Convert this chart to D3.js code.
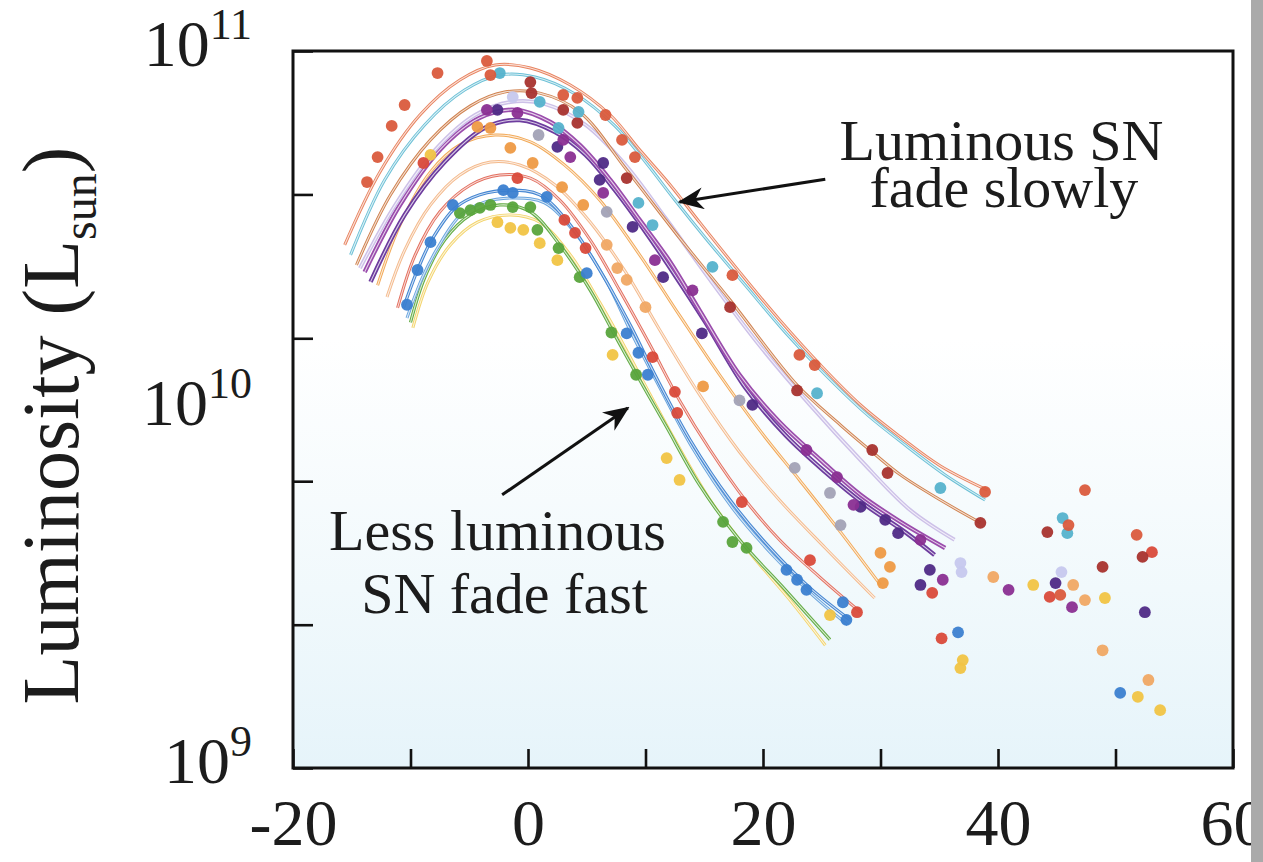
<!DOCTYPE html>
<html>
<head>
<meta charset="utf-8">
<script src="https://cdn.jsdelivr.net/npm/d3@7"></script>
<style>
  html, body { margin: 0; padding: 0; background: #fff; }
  svg { display: block; }
  text { font-family: "Liberation Serif", "Times New Roman", serif; fill: #1c1c1c; }
</style>
</head>
<body>
<div id="viz"></div>
<script>
// luminosity in units of 10^9 L_sun, time in days from peak
const xTicks = [-20, -10, 0, 10, 20, 30, 40, 50, 60];
const xLabels = [-20, 0, 20, 40, 60];
const yTicks = [1, 2.51, 6.31, 15.8, 39.8, 100];
const yLabels = [[1, "9"], [10, "10"], [100, "11"]];

const fitSalmon = [[-15.6,28.8],[-12.6,46.0],[-9.2,66.3],[-5.8,83.0],[-2.8,91.4],[0.2,89.7],[3.6,80.4],[7.0,66.3],[9.5,53.0],[12.1,42.3],[14.6,33.3],[18.0,24.2],[21.4,17.8],[24.9,13.3],[28.3,10.3],[31.7,8.38],[35.1,6.96],[39.1,5.96]];
const obsSalmon = [[-13.7,43.1],[-12.8,50.6],[-11.6,61.8],[-10.5,70.7],[-7.7,86.8],[-3.5,93.8],[-3.2,85.7],[3.0,75.4],[4.2,74.0],[6.6,66.3],[8.0,56.5],[9.1,50.6],[17.4,23.7],[23.1,14.2],[24.4,13.3],[38.9,5.89],[47.4,5.96],[51.8,4.47],[45.3,3.04],[46.0,4.76]];

const fitCyan = [[-15.1,27.0],[-12.2,43.7],[-8.8,62.2],[-5.4,77.8],[-2.4,85.7],[0.6,84.6],[4.0,75.9],[7.4,61.8],[10.0,49.0],[12.5,38.4],[15.1,30.1],[18.5,22.2],[21.9,16.4],[25.3,12.5],[28.7,9.78],[32.1,7.96],[35.5,6.57],[38.9,5.59]];
const obsCyan = [[-2.4,86.8],[1.0,72.1],[4.3,67.6],[2.6,61.0],[9.4,37.7],[10.6,32.7],[15.7,25.0],[24.6,11.1],[35.1,6.04],[45.5,4.98],[45.9,4.52]];

const fitBrown = [[-14.6,25.3],[-11.7,39.7],[-8.3,56.5],[-4.9,70.3],[-2.0,76.8],[1.0,76.3],[4.4,67.6],[8.4,46.6],[12.9,30.1],[17.2,20.2],[22.9,11.7],[26.6,9.05],[29.3,7.61],[31.7,6.57],[35.1,5.59],[38.5,4.83]];
const obsBrown = [[0.2,81.9],[0.3,76.3],[3.0,68.5],[4.2,63.0],[8.4,44.2],[17.2,19.3],[22.9,11.3],[29.3,7.71],[30.6,6.65],[38.5,4.83],[44.2,4.55],[52.3,3.88],[48.9,3.64]];

const fitLavender = [[-14.3,24.8],[-11.3,37.2],[-7.9,53.0],[-4.5,66.3],[-1.5,72.1],[1.4,71.2],[4.9,62.2],[8.3,48.1],[11.7,34.2],[15.5,23.0],[19.7,15.1],[24.0,10.3],[28.3,7.23],[32.5,5.25],[36.3,4.33]];
const obsLavender = [[-1.3,74.4],[36.8,3.73],[36.9,3.52],[45.4,3.52]];

const fitPurple = [[-13.9,24.2],[-10.9,37.2],[-7.5,53.0],[-4.1,65.1],[-1.1,68.5],[1.9,63.4],[4.4,54.7],[7.0,43.7],[9.5,33.8],[12.1,25.8],[14.6,18.9],[18.0,12.5],[21.4,9.23],[24.9,7.23],[28.3,5.78],[31.7,4.86],[35.5,4.11]];
const obsPurple = [[-3.5,68.5],[-0.9,67.2],[3.0,56.5],[3.6,50.6],[6.4,40.2],[10.8,26.1],[14.0,21.5],[23.7,7.71],[26.3,6.48],[27.7,5.42],[33.4,4.33],[35.3,3.35],[40.9,3.14],[46.3,2.81]];

const fitViolet = [[-13.4,22.7],[-10.5,34.9],[-7.1,49.0],[-3.7,61.0],[-0.7,64.2],[2.3,59.4],[4.9,51.3],[7.4,40.9],[10.0,31.3],[12.5,23.7],[15.1,17.5],[18.5,11.5],[21.9,8.49],[25.3,6.69],[28.7,5.42],[32.1,4.55],[34.6,3.93]];
const obsViolet = [[-2.6,68.5],[2.5,54.0],[6.4,48.7],[6.1,43.7],[8.9,32.3],[11.5,23.4],[14.8,16.3],[19.1,10.3],[28.3,5.35],[30.4,4.92],[31.5,4.52],[34.2,3.57],[33.4,3.24],[44.9,3.28],[52.5,2.72]];

const obsGray = [[0.9,58.3],[6.7,35.6],[18.0,10.6],[22.7,6.87],[25.7,5.85],[26.6,4.76]];

const fitOrange = [[-12.8,22.2],[-10.9,32.7],[-8.3,46.0],[-5.8,54.7],[-2.8,58.3],[0.2,55.8],[3.1,48.1],[6.1,38.4],[9.5,27.0],[12.9,18.3],[16.3,12.5],[19.7,8.77],[23.1,6.36],[26.6,4.55],[30.0,3.24]];
const obsOrange = [[-4.3,61.4],[-3.2,61.0],[-1.5,53.7],[0.4,48.7],[2.9,41.7],[4.7,37.2],[14.9,11.6],[30.0,3.98],[30.8,3.64],[30.2,3.28]];

const fitTan = [[-12.0,20.6],[-10.5,27.8],[-8.3,37.2],[-5.8,45.1],[-3.2,49.0],[-0.7,48.1],[2.3,42.3],[5.3,33.3],[8.3,24.2],[11.2,16.7],[14.6,11.0],[18.0,7.61],[21.4,5.59],[25.3,4.11],[29.5,2.98]];
const obsTan = [[6.7,28.8],[7.6,24.8],[8.4,23.0],[10.0,19.3],[39.6,3.41],[46.4,3.24],[47.4,2.94],[48.9,2.13],[52.8,1.76]];

const fitRed = [[-11.1,19.2],[-9.6,27.0],[-7.5,35.6],[-4.9,42.3],[-2.4,45.1],[0.2,44.2],[2.7,38.4],[5.3,29.7],[7.8,21.5],[10.4,15.1],[12.9,10.6],[15.5,7.71],[18.5,5.59],[21.4,4.33],[24.9,3.39],[28.3,2.72]];
const obsRed = [[-8.9,48.7],[-0.9,44.2],[3.1,33.8],[4.0,31.1],[4.9,28.2],[10.6,14.0],[12.5,11.2],[12.7,9.78],[18.2,5.52],[24.0,3.80],[28.0,2.72],[53.1,4.00],[44.4,3.00],[35.2,2.30],[34.4,3.08]];

const fitBlue = [[-10.6,19.2],[-9.4,24.5],[-8.2,29.7],[-6.2,36.5],[-4.1,39.7],[-1.5,40.9],[1.0,39.7],[3.6,32.7],[6.1,24.5],[8.7,17.2],[10.8,12.5],[13.8,8.22],[17.2,5.59],[20.6,4.11],[24.0,3.18],[27.4,2.59]];
const fitBlue2 = [[-10.3,18.0],[-9.0,23.3],[-7.7,28.2],[-5.8,34.7],[-3.7,37.9],[-1.1,38.9],[1.4,37.7],[4.0,31.1],[6.6,23.0],[8.9,16.1],[11.1,11.7],[14.0,7.81],[17.4,5.31],[20.9,3.90],[24.2,3.04],[27.2,2.51]];
const obsBlue = [[-10.3,19.6],[-9.4,24.5],[-8.3,29.3],[-6.4,37.2],[-2.1,40.9],[-1.3,40.2],[1.6,39.2],[5.0,24.0],[8.4,16.3],[9.4,14.4],[10.2,12.5],[22.0,3.57],[22.9,3.35],[23.7,3.14],[26.8,2.90],[27.1,2.59],[50.4,1.62],[36.6,2.39]];

const fitGreen = [[-10.0,17.5],[-8.8,23.3],[-7.1,29.7],[-4.9,34.9],[-2.4,37.2],[0.2,35.6],[2.7,28.8],[5.3,21.5],[7.4,16.1],[9.5,12.1],[11.7,9.05],[14.6,6.16],[18.0,4.33],[21.9,3.14],[25.7,2.28]];
const obsGreen = [[-5.8,35.3],[-4.9,36.0],[-4.1,36.5],[-3.2,37.2],[-1.3,36.7],[0.2,36.7],[0.8,31.7],[2.6,28.2],[4.4,23.4],[7.1,16.4],[9.2,12.5],[16.6,4.86],[17.4,4.27],[18.6,4.11]];

const fitYellow = [[-9.8,16.9],[-8.5,22.7],[-6.6,28.8],[-4.3,33.3],[-1.5,34.9],[1.0,33.3],[3.6,27.0],[6.1,19.9],[8.3,14.8],[10.4,11.0],[12.5,8.22],[15.5,5.59],[18.9,3.98],[22.3,2.94],[25.3,2.20]];
const obsYellow = [[-8.3,51.3],[-2.6,33.3],[-1.5,32.1],[-0.4,31.7],[1.0,29.1],[2.5,26.1],[7.2,14.2],[11.8,7.32],[12.9,6.36],[25.7,2.67],[43.0,3.24],[49.1,2.98],[51.9,1.58],[53.8,1.45],[36.8,1.90],[37.0,2.00]];

// annotation anchors (day, L)
const notes = [
  {lines: ["Luminous SN", "fade slowly"], at: [[40.3, 49.7], [40.5, 36.7]]},
  {lines: ["Less luminous", "SN fade fast"], at: [[-2.6, 4.06], [-2.0, 2.71]]}
];
const arrows = [
  [[25.3, 43.9], [12.9, 37.9]],
  [[-2.2, 5.78], [8.5, 10.1]]
];

const width = 1263;
const height = 862;

const x = d3.scaleLinear().domain([-20, 60]).range([293, 1233]);
const y = d3.scaleLog().domain([1, 100]).range([768, 51]);

const svg = d3.select("#viz")
    .append("svg")
    .attr("width", width)
    .attr("height", height)
    .style("background-color", "white");

const defs = svg.append("defs");
const grad = defs.append("linearGradient")
    .attr("id", "bg").attr("x1", 0).attr("y1", 0).attr("x2", 0).attr("y2", 1);
grad.append("stop").attr("offset", "0.4").attr("stop-color", "#ffffff");
grad.append("stop").attr("offset", "0.75").attr("stop-color", "#f1f9fc");
grad.append("stop").attr("offset", "1").attr("stop-color", "#e6f4fa");

defs.append("marker")
    .attr("id", "arrow")
    .attr("viewBox", "0 0 26 22")
    .attr("refX", 24).attr("refY", 11)
    .attr("markerWidth", 26).attr("markerHeight", 22)
    .attr("markerUnits", "userSpaceOnUse")
    .attr("orient", "auto")
  .append("path")
    .attr("d", "M0,0 L26,11 L0,22 L8,11 Z")
    .attr("fill", "#111");

svg.append("rect")
    .attr("x", x(-20)).attr("y", y(100))
    .attr("width", x(60) - x(-20)).attr("height", y(1) - y(100))
    .attr("fill", "url(#bg)");

const curves = [
  {fit: fitYellow, obs: obsYellow, line: "#f3d46c", dot: "#f1c445", w: 3},
  {fit: fitGreen, obs: obsGreen, line: "#64ad46", dot: "#58a43c", w: 3.2},
  {fit: fitBlue2, obs: [], line: "#6aa5de", dot: "#3b80d0", w: 3},
  {fit: fitBlue, obs: obsBlue, line: "#4586d2", dot: "#3b80d0", w: 3.2},
  {fit: fitRed, obs: obsRed, line: "#e36f5f", dot: "#d94a3a", w: 3},
  {fit: fitTan, obs: obsTan, line: "#f4ba8c", dot: "#f0a864", w: 3},
  {fit: fitOrange, obs: obsOrange, line: "#f2a957", dot: "#ee9a45", w: 3},
  {fit: fitViolet, obs: obsViolet, line: "#6d3c9e", dot: "#4f2a86", w: 4.5},
  {fit: fitPurple, obs: obsPurple, line: "#9a4cac", dot: "#8a2f92", w: 4.5},
  {fit: fitLavender, obs: obsLavender, line: "#cdc1e8", dot: "#c6c8ee", w: 4},
  {fit: [], obs: obsGray, line: "#999", dot: "#a2a2b6", w: 0},
  {fit: fitBrown, obs: obsBrown, line: "#d0824f", dot: "#a8332e", w: 3},
  {fit: fitCyan, obs: obsCyan, line: "#6cc0d6", dot: "#55b2cc", w: 3},
  {fit: fitSalmon, obs: obsSalmon, line: "#e8825e", dot: "#da5b3d", w: 3}
];

const line = d3.line()
    .x(d => x(d[0]))
    .y(d => y(d[1]))
    .curve(d3.curveCatmullRom.alpha(0.5));

const fits = svg.append("g");
curves.filter(c => c.fit.length).forEach(c => {
  fits.append("path")
      .attr("d", line(c.fit))
      .attr("fill", "none")
      .attr("stroke", c.line)
      .attr("stroke-width", c.w);
  fits.append("path")
      .attr("d", line(c.fit))
      .attr("fill", "none")
      .attr("stroke", "#fff")
      .attr("stroke-opacity", 0.75)
      .attr("stroke-width", 1.1);
});

const dots = svg.append("g");
curves.forEach(c => {
  dots.selectAll(null)
      .data(c.obs)
      .enter()
      .append("circle")
      .attr("cx", d => x(d[0]))
      .attr("cy", d => y(d[1]))
      .attr("r", 5.9)
      .attr("fill", c.dot)
      .attr("fill-opacity", 0.95);
});

// axes: ticks point inward
const xAxis = d3.axisBottom(x)
    .tickValues(xTicks)
    .tickSize(-19)
    .tickPadding(30)
    .tickFormat(d => xLabels.includes(d) ? String(d) : "");

const gx = svg.append("g")
    .attr("transform", `translate(0,${y(1)})`)
    .call(xAxis);
gx.select(".domain").remove();
gx.selectAll(".tick line").attr("stroke", "#111").attr("stroke-width", 2.6);
gx.selectAll(".tick text")
    .attr("font-size", 66)
    .attr("font-family", "Liberation Serif")
    .attr("fill", "#1c1c1c");

const yAxis = d3.axisLeft(y)
    .tickValues(yTicks)
    .tickSize(-20)
    .tickFormat("");

const gy = svg.append("g")
    .attr("transform", `translate(${x(-20)},0)`)
    .call(yAxis);
gy.select(".domain").remove();
gy.selectAll(".tick line").attr("stroke", "#111").attr("stroke-width", 2.6);

const ylab = svg.append("g").selectAll("text")
    .data(yLabels)
    .enter()
    .append("text")
    .attr("x", 252)
    .attr("y", d => y(d[0]) + 15)
    .attr("text-anchor", "end")
    .attr("font-size", 66);
ylab.append("tspan").text("10");
ylab.append("tspan").attr("dy", -27).attr("font-size", 44).text(d => d[1]);

// frame
svg.append("rect")
    .attr("x", x(-20)).attr("y", y(100))
    .attr("width", x(60) - x(-20)).attr("height", y(1) - y(100))
    .attr("fill", "none")
    .attr("stroke", "#111")
    .attr("stroke-width", 3);

const title = svg.append("text")
    .attr("transform", `translate(78,${(y(1) + y(100)) / 2 + 16}) rotate(-90)`)
    .attr("text-anchor", "middle")
    .attr("font-size", 80);
title.append("tspan").text("Luminosity (L");
title.append("tspan").attr("dy", 18).attr("font-size", 48).text("sun");
title.append("tspan").attr("dy", -18).text(")");

notes.forEach(n => {
  n.lines.forEach((t, i) => {
    svg.append("text")
        .attr("x", x(n.at[i][0]))
        .attr("y", y(n.at[i][1]))
        .attr("text-anchor", "middle")
        .attr("font-size", 58)
        .text(t);
  });
});

svg.append("g").selectAll("line")
    .data(arrows)
    .enter()
    .append("line")
    .attr("x1", d => x(d[0][0]))
    .attr("y1", d => y(d[0][1]))
    .attr("x2", d => x(d[1][0]))
    .attr("y2", d => y(d[1][1]))
    .attr("stroke", "#111")
    .attr("stroke-width", 3)
    .attr("marker-end", "url(#arrow)");

// grey strip at the right edge of the screenshot
svg.append("rect")
    .attr("x", 1251).attr("y", 0)
    .attr("width", 12).attr("height", height)
    .attr("fill", "#aaaaaa");
</script>
</body>
</html>
